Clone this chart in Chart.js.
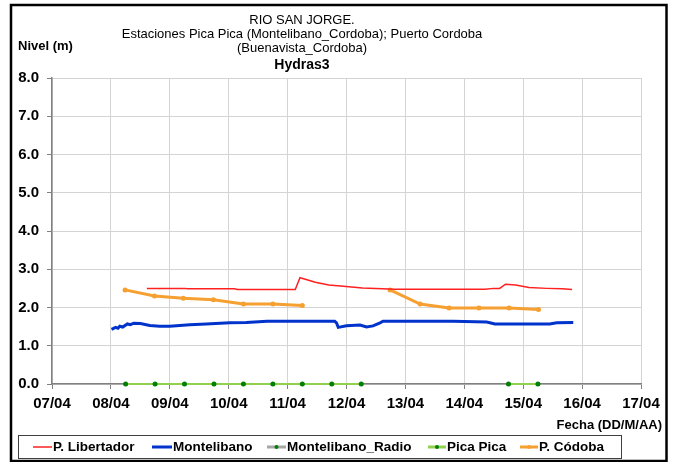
<!DOCTYPE html>
<html>
<head>
<meta charset="utf-8">
<title>Rio San Jorge - Hydras3</title>
<script src="https://cdn.jsdelivr.net/npm/chart.js@4"></script>
<style>
  body { margin: 0; background: #fff; }
  canvas { display: block; }
</style>
</head>
<body>
<canvas id="nivel" width="677" height="462"></canvas>
<script>
// Days of April as decimal numbers (8.5 = 08/04 12:00), levels in metres
const libertador = [
  [8.61, 2.50], [9.26, 2.50], [9.3, 2.49], [10.1, 2.49], [10.15, 2.47], [11.13, 2.47],
  [11.21, 2.78], [11.3, 2.74], [11.47, 2.66], [11.7, 2.59], [11.9, 2.56],
  [12.27, 2.51], [12.83, 2.48], [13.5, 2.48], [14.35, 2.48], [14.5, 2.50],
  [14.6, 2.50], [14.7, 2.61], [14.87, 2.59], [15.1, 2.52], [15.4, 2.50],
  [15.66, 2.49], [15.83, 2.47]
];

const montelibano = [
  [8.01, 1.43], [8.08, 1.48], [8.12, 1.46], [8.15, 1.51], [8.2, 1.49],
  [8.28, 1.57], [8.33, 1.55], [8.39, 1.59], [8.5, 1.58], [8.66, 1.53],
  [8.83, 1.51], [9.0, 1.51], [9.34, 1.55], [9.62, 1.57], [10.02, 1.60],
  [10.3, 1.61], [10.65, 1.64], [11.2, 1.64], [11.8, 1.64], [11.83, 1.60],
  [11.86, 1.48], [12.0, 1.52], [12.23, 1.54], [12.34, 1.49], [12.45, 1.52],
  [12.57, 1.60], [12.62, 1.64], [13.81, 1.64], [14.38, 1.62], [14.52, 1.57],
  [15.45, 1.57], [15.57, 1.60], [15.85, 1.61]
];

const montelibanoRadio = [];

const picaPica = [
  [8.25, 0], [8.75, 0], [9.25, 0], [9.75, 0], [10.25, 0], [10.75, 0],
  [11.25, 0], [11.75, 0], [12.25, 0], [13.5, null], [14.75, 0], [15.25, 0]
];

const puertoCordoba = [
  [8.24, 2.46], [8.74, 2.30], [9.23, 2.24], [9.74, 2.20], [10.25, 2.09],
  [10.75, 2.09], [11.25, 2.05], [12.0, null],
  [12.74, 2.46], [13.25, 2.09], [13.74, 1.99], [14.25, 1.99], [14.76, 1.99],
  [15.26, 1.95]
];

const titleLines = [
  "RIO SAN JORGE.",
  "Estaciones Pica Pica (Montelibano_Cordoba); Puerto Cordoba",
  "(Buenavista_Cordoba)"
];
const subTitle = "Hydras3";
const yTitle = "Nivel (m)";
const xTitle = "Fecha (DD/M/AA)";

const legendItems = [
  { text: "P. Libertador", color: "#ff2020", width: 1.5, dot: null, x1: 33, x2: 52 },
  { text: "Montelibano", color: "#0033cc", width: 3, dot: null, x1: 152, x2: 172 },
  { text: "Montelibano_Radio", color: "#a6a6a6", width: 3, dot: "#008000", x1: 267, x2: 286 },
  { text: "Pica Pica", color: "#92d050", width: 3, dot: "#008000", x1: 428, x2: 446 },
  { text: "P. Códoba", color: "#f5a030", width: 3, dot: "#f5a030", x1: 520, x2: 538 }
];

const toPoints = (arr) => arr.map(([x, y]) => ({ x, y }));
const FONT = "'Liberation Sans', Arial, sans-serif";

// titles, axis captions, legend box and the outer frame
const decorations = {
  id: "decorations",
  afterDraw(chart) {
    const ctx = chart.ctx;
    ctx.save();
    ctx.fillStyle = "#000";
    ctx.textBaseline = "middle";

    ctx.textAlign = "center";
    ctx.font = "13px " + FONT;
    titleLines.forEach((line, i) => ctx.fillText(line, 302, 20 + i * 14.2));
    ctx.font = "bold 14px " + FONT;
    ctx.fillText(subTitle, 302, 65);

    ctx.textAlign = "left";
    ctx.font = "bold 13px " + FONT;
    ctx.fillText(yTitle, 18, 46);
    ctx.textAlign = "right";
    ctx.fillText(xTitle, 662, 425);

    // legend
    ctx.strokeStyle = "#404040";
    ctx.lineWidth = 1;
    ctx.strokeRect(18.5, 435.5, 603, 23);
    ctx.textAlign = "left";
    ctx.font = "bold 13.5px " + FONT;
    legendItems.forEach((it) => {
      const y = 447;
      ctx.strokeStyle = it.color;
      ctx.lineWidth = it.width;
      ctx.beginPath();
      ctx.moveTo(it.x1, y);
      ctx.lineTo(it.x2, y);
      ctx.stroke();
      if (it.dot) {
        ctx.fillStyle = it.dot;
        ctx.beginPath();
        ctx.arc((it.x1 + it.x2) / 2, y, 2, 0, Math.PI * 2);
        ctx.fill();
      }
      ctx.fillStyle = "#000";
      ctx.fillText(it.text, it.x2 + 1, y);
    });

    // outer frame
    ctx.strokeStyle = "#000";
    ctx.lineWidth = 2.5;
    ctx.strokeRect(11, 5, 655.5, 456);
    ctx.restore();
  }
};

new Chart(document.getElementById("nivel"), {
  type: "line",
  data: {
    datasets: [
      {
        label: "P. Libertador",
        data: toPoints(libertador),
        borderColor: "#ff2020",
        borderWidth: 1.5,
        pointRadius: 0
      },
      {
        label: "Montelibano",
        data: toPoints(montelibano),
        borderColor: "#0033cc",
        borderWidth: 3,
        pointRadius: 0
      },
      {
        label: "Montelibano_Radio",
        data: montelibanoRadio,
        borderColor: "#a6a6a6",
        pointBackgroundColor: "#008000",
        borderWidth: 3,
        pointRadius: 2.5
      },
      {
        label: "Pica Pica",
        data: toPoints(picaPica),
        borderColor: "#92d050",
        borderWidth: 2,
        pointBackgroundColor: "#008000",
        pointBorderColor: "#008000",
        pointRadius: 2.5,
        pointBorderWidth: 0,
        clip: false
      },
      {
        label: "P. Códoba",
        data: toPoints(puertoCordoba),
        borderColor: "#f5a030",
        borderWidth: 3,
        pointBackgroundColor: "#f5a030",
        pointBorderColor: "#f5a030",
        pointRadius: 2.5,
        pointBorderWidth: 0
      }
    ]
  },
  options: {
    responsive: false,
    animation: false,
    devicePixelRatio: 1,
    spanGaps: false,
    layout: { padding: { left: 0, top: 78, right: 36, bottom: 49 } },
    plugins: {
      legend: { display: false },
      title: { display: false },
      tooltip: { enabled: false }
    },
    scales: {
      x: {
        type: "linear",
        min: 7,
        max: 17,
        afterFit: (scale) => { scale.height = 29; },
        ticks: {
          stepSize: 1,
          autoSkip: false,
          maxRotation: 0,
          padding: 6,
          color: "#000",
          font: { family: FONT, size: 15, weight: "bold" },
          callback: (v) => String(v).padStart(2, "0") + "/04"
        },
        grid: { color: "#d4d4d4", tickLength: 5, tickColor: "#808080" },
        border: { color: "#808080", width: 1.5 }
      },
      y: {
        min: 0,
        max: 8,
        afterFit: (scale) => { scale.width = 52; },
        ticks: {
          stepSize: 0.5,
          padding: 8,
          color: "#000",
          font: { family: FONT, size: 15, weight: "bold" },
          callback: (v) => (v % 1 === 0 ? v.toFixed(1) : "")
        },
        grid: {
          color: "#d4d4d4",
          tickLength: 5,
          tickColor: (c) => (c.tick && c.tick.value % 1 === 0 ? "#808080" : "rgba(0,0,0,0)")
        },
        border: { color: "#808080", width: 1.5 }
      }
    }
  },
  plugins: [decorations]
});
</script>
</body>
</html>
